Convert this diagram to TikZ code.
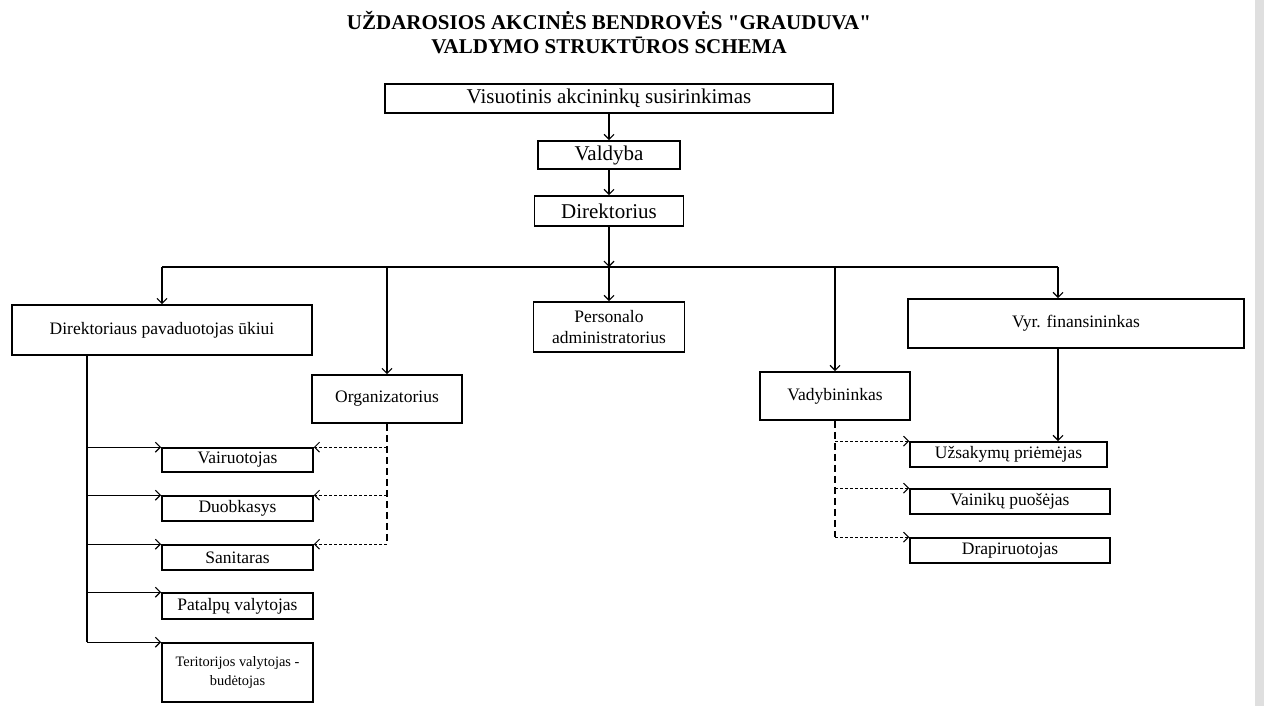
\documentclass[tikz,border=0pt]{standalone}
\usepackage{fontspec}
\setmainfont{Liberation Serif}[Ligatures=TeXOff]
\usepackage{tikz}
\usetikzlibrary{arrows.meta}
\usetikzlibrary{calc}

\def\thickness{1.2pt}
\tikzset{box/.style={draw, line width=1.6pt, inner sep=0pt, align=center,
    font=\fontsize{17.5}{21}\selectfont}}
\tikzset{topbox/.style={box, font=\fontsize{21}{24}\selectfont}}
\tikzset{headline/.style={inner sep=0pt, align=center, font=\fontsize{21}{24}\selectfont\bfseries}}
\tikzset{arr/.style={line width=\thickness, -{Straight Barb[length=5pt,width=10pt]}}}
\tikzset{dsh/.style={line width=1pt, dash pattern=on 3pt off 2pt,
    -{Straight Barb[length=5pt,width=10pt]}}}
\tikzset{dshv/.style={line width=2.2pt, dash pattern=on 7pt off 4pt}}

\begin{document}
\begin{tikzpicture}[x=1pt,y=-1pt] %% pixel grid, y down

\useasboundingbox (0,0) rectangle (1264,706);
\fill[gray!25] (1255,0) rectangle (1264,706);

%% title
\node [headline] (title) at (609,33) {UŽDAROSIOS AKCINĖS BENDROVĖS "GRAUDUVA"\\VALDYMO STRUKTŪROS SCHEMA};

%% top chain
\node [topbox, minimum width=448, minimum height=29] (vis) at (609,98.5) {Visuotinis akcininkų susirinkimas};
\node [topbox, minimum width=142, minimum height=28] (val) at (609,155) {Valdyba};
\node [topbox, minimum width=149, minimum height=30] (dir) at (609,211) {Direktorius};
\draw[arr] (vis) -- (val);
\draw[arr] (val) -- (dir);

%% second level
\node [box, minimum width=300, minimum height=50] (dpu) at (162,330) {Direktoriaus pavaduotojas ūkiui};
\node [box, minimum width=150, minimum height=48] (org) at (387,399) {Organizatorius};
\node [box, minimum width=151, minimum height=50] (per) at (609,327) {Personalo\\administratorius};
\node [box, minimum width=150, minimum height=48] (vad) at (835,396) {Vadybininkas};
\node [box, minimum width=336, minimum height=49] (vyr) at (1076,323.5) {Vyr. finansininkas};

\coordinate (bus) at (609,267);
\coordinate (fin) at (1058,267);
\draw[arr] (dir) -- (bus);
\draw[line width=\thickness] (dpu.north |- bus) -- (fin);
\foreach \n in {dpu,org,per,vad}
  \draw[arr] (\n.north |- bus) -- (\n.north);
\draw[arr] (fin) -- (fin |- vyr.north);

%% left column
\node [box, minimum width=151, minimum height=24] (vair) at (237.5,460) {Vairuotojas};
\node [box, minimum width=151, minimum height=25] (duo) at (237.5,508.5) {Duobkasys};
\node [box, minimum width=151, minimum height=25] (san) at (237.5,557.5) {Sanitaras};
\node [box, minimum width=151, minimum height=26] (pat) at (237.5,606) {Patalpų valytojas};
\node [box, minimum width=151, minimum height=59, font=\fontsize{14.4}{19}\selectfont] (ter) at (237.5,672.5) {Teritorijos valytojas -\\budėtojas};

\coordinate (dpu_out) at (87,355);
\draw[line width=\thickness] (dpu_out) -- (dpu_out |- ter.north west);
\foreach \n in {vair,duo,san,pat,ter}
  \draw[arr] (dpu_out |- \n.north west) -- (\n.north west);

\coordinate (org_end) at (org.south |- san.north east);
\draw[dshv] (org.south) -- (org_end);
\foreach \n in {vair,duo,san}
  \draw[dsh] (org.south |- \n.north east) -- (\n.north east);

%% right column
\node [box, minimum width=197, minimum height=25] (uzs) at (1008.5,454.5) {Užsakymų priėmėjas};
\node [box, minimum width=200, minimum height=25] (vain) at (1010,501.5) {Vainikų puošėjas};
\node [box, minimum width=200, minimum height=25] (dra) at (1010,550.5) {Drapiruotojas};

\draw[arr] (fin |- vyr.south) -- (fin |- uzs.north);

\coordinate (vad_end) at (vad.south |- dra.north west);
\draw[dshv] (vad.south) -- (vad_end);
\foreach \n in {uzs,vain,dra}
  \draw[dsh] (vad.south |- \n.north west) -- (\n.north west);

\end{tikzpicture}
\end{document}
